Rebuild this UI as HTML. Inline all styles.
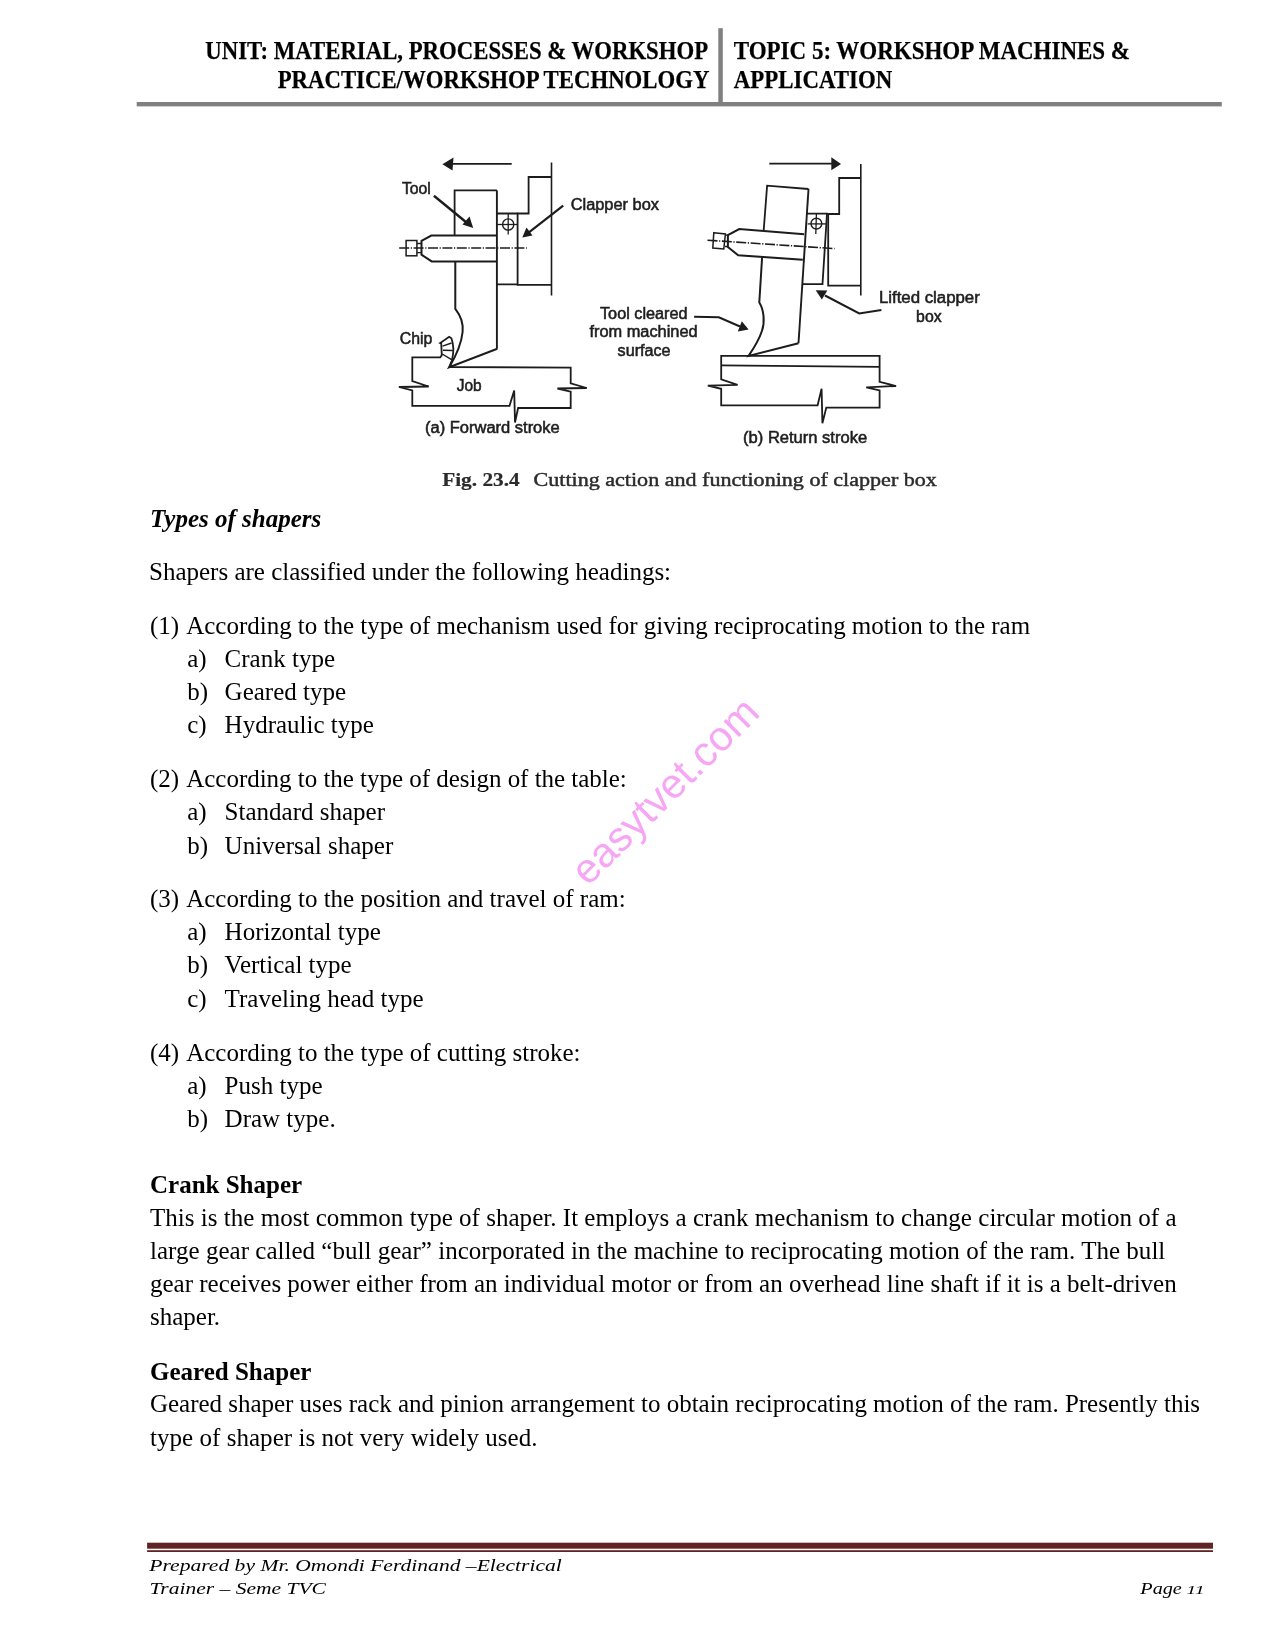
<!DOCTYPE html>
<html><head><meta charset="utf-8"><style>
html,body{margin:0;padding:0;background:#fff;}
body{width:1275px;height:1650px;overflow:hidden;position:relative;}
svg{position:absolute;left:0;top:0;will-change:transform;}
.b{font-family:"Liberation Serif",serif;font-size:25px;fill:#000;}
.h{font-family:"Liberation Serif",serif;font-size:25.5px;font-weight:bold;fill:#000;stroke:#000;stroke-width:0.25px;}
.f{font-family:"Liberation Serif",serif;font-size:16.8px;font-style:italic;fill:#000;}
.d{font-family:"Liberation Sans",sans-serif;font-size:15px;fill:#111;}
</style></head><body>
<svg width="1275" height="1650" viewBox="0 0 1275 1650">
<!-- header -->
<rect x="136.7" y="102" width="1085.1" height="4.4" fill="#808080"/>
<rect x="718.3" y="28.2" width="4.5" height="75" fill="#808080"/>
<text class="h" x="205.3" y="58.5" textLength="502.8" lengthAdjust="spacingAndGlyphs">UNIT: MATERIAL, PROCESSES &amp; WORKSHOP</text>
<text class="h" x="277.7" y="87.7" textLength="431.7" lengthAdjust="spacingAndGlyphs">PRACTICE/WORKSHOP TECHNOLOGY</text>
<text class="h" x="733.8" y="58.8" textLength="396.2" lengthAdjust="spacingAndGlyphs">TOPIC 5: WORKSHOP MACHINES &amp;</text>
<text class="h" x="733.8" y="87.9" textLength="158.4" lengthAdjust="spacingAndGlyphs">APPLICATION</text>

<!-- DIAGRAM -->
<g id="diagram" fill="none" stroke="#1c1c1c" stroke-width="1.8" stroke-linejoin="miter">
<!-- ===== (a) forward stroke ===== -->
<line x1="451" y1="163.8" x2="511.7" y2="163.8"/>
<path d="M442.4 164.3 L453.5 157.5 L452.5 170.5 Z" fill="#1c1c1c" stroke="none"/>
<line x1="551.5" y1="162.5" x2="551.5" y2="295.5" stroke-width="1.6"/>
<path d="M551.5 177 H528.6 V213.5 H517.6 V284.9 H551.5"/>
<path d="M497 213.5 H517.6 M497 284.3 H517.6"/>
<line x1="496.9" y1="190.4" x2="496.9" y2="348.8" stroke-width="1.9"/>
<path d="M454.6 235.4 V190.4 H496.9"/>
<path d="M496.9 235.5 H431.3 L421.5 240.9 V254.7 L431.7 261.4 H496.9" stroke-width="2"/>
<rect x="406.1" y="240.5" width="10.8" height="15.3" stroke-width="1.5"/>
<path d="M417 243.5 H421.5 M417 252.7 H421.5" stroke-width="1.3"/>
<line x1="399.2" y1="248" x2="526.8" y2="248" stroke-width="1.6" stroke-dasharray="10 1.6 1.2 1.6"/>
<circle cx="508.2" cy="224.5" r="5.6" stroke-width="1.4"/>
<line x1="497" y1="224.5" x2="517" y2="224.5" stroke-width="1.3"/>
<line x1="508.2" y1="213.5" x2="508.2" y2="234.5" stroke-width="1.3"/>
<!-- tool -->
<path d="M455.3 261.4 V308.8 C461 316 463.5 324 462.6 332 C461.5 343 456 356 449.2 367.2 L497.3 348.8" stroke-width="2"/>
<!-- job -->
<path d="M449.2 367 L570.7 367.7 V383.3 L586.7 388 L557.4 388.5 L570.7 391.6 V408 H518.1 L515 422.5 L514.2 390.4 L509.5 405.8 H412.3 V390.4 L398.9 387 L428.7 386.5 L412.3 381 V357.4 H440.2 L441.8 355.2 L441.2 343.4 L440.2 343 L449.2 336.8 L451.4 338.3 C453.5 344 454 352 452 360.3 L449.2 367"/>
<!-- chip hatch -->
<path d="M442.5 346.2 L451.6 343 M442.9 350.3 L452.8 350.5 M442.2 354 L452 359.9" stroke-width="1.4"/>
<!-- label arrows -->
<line x1="433.9" y1="195.8" x2="468" y2="223.8" stroke-width="2.4"/>
<path d="M473.2 228 L462.5 224.5 L469.5 216.5 Z" fill="#1c1c1c" stroke="none"/>
<line x1="563.2" y1="205.7" x2="527" y2="233.8" stroke-width="2.2"/>
<path d="M522.3 237.5 L526.5 227.5 L532.5 235.5 Z" fill="#1c1c1c" stroke="none"/>

<!-- ===== (b) return stroke ===== -->
<line x1="769.3" y1="163.6" x2="832" y2="163.6"/>
<path d="M841.1 164 L831.3 157.3 L831.3 170.3 Z" fill="#1c1c1c" stroke="none"/>
<line x1="860.8" y1="164" x2="860.8" y2="295.5" stroke-width="1.6"/>
<path d="M860.8 178 H839.2 V214 H828.2 V285.6 H860.8"/>
<!-- clapper (tilted) -->
<path d="M807 213.6 H827 L822.5 284.1 H802"/>
<!-- long tilted line -->
<line x1="808.5" y1="189" x2="798.5" y2="343.3" stroke-width="1.9"/>
<!-- holder -->
<path d="M763.7 230.2 L767.1 185.7 L808.5 189"/>
<!-- bolt -->
<path d="M804.2 234.2 L739.2 229 L727.9 235.2 V247.1 L738.2 255.3 L802.8 259.8" stroke-width="2"/>
<path d="M713.8 232.7 L725.4 234 L723.8 249 L712.8 248.1 Z" stroke-width="1.5"/>
<path d="M725.4 235.2 H728 M725 246.5 H728" stroke-width="1.3"/>
<line x1="707.5" y1="240.2" x2="834.6" y2="248.6" stroke-width="1.6" stroke-dasharray="10 1.6 1.2 1.6"/>
<circle cx="816.4" cy="223.6" r="5.4" stroke-width="1.4"/>
<line x1="807.7" y1="223.9" x2="826.3" y2="223.9" stroke-width="1.3"/>
<line x1="816.4" y1="214" x2="815.8" y2="234" stroke-width="1.3"/>
<!-- tool -->
<path d="M762.1 257.2 L759.3 302.5 C764 310 765 322 762 330.8 C760 337 754 348 748.6 355.9 L798.5 343.3" stroke-width="2"/>
<!-- table -->
<path d="M721.2 355.9 H879.6 M721.2 365.3 L879.6 366.9"/>
<path d="M721.2 355 V379.4 L737.6 384.9 L707.8 385.7 L721.2 388.8 V405.3 H817.6 L821.6 388.8 L822.4 423.3 L826.3 407.6 H879.6 V390.4 L866.3 387.3 L896.1 386 L879.6 381.8 V355"/>
<!-- label arrows -->
<path d="M694.1 316.8 L718.8 317.3 L740 326.5" stroke-width="2"/>
<path d="M748.6 329.6 L737.8 331.6 L741.8 321.2 Z" fill="#1c1c1c" stroke="none"/>
<path d="M881.4 310.1 L859.2 313.5 L825 295.5" stroke-width="2"/>
<path d="M815.7 290.2 L827.4 290.5 L821.8 299.5 Z" fill="#1c1c1c" stroke="none"/>
</g>
<g font-family="Liberation Sans" font-size="16" fill="#1e1e1e" stroke="#1e1e1e" stroke-width="0.55">
<text x="401.9" y="193.9" textLength="28.9" lengthAdjust="spacingAndGlyphs">Tool</text>
<text x="570.7" y="209.5" textLength="88.3" lengthAdjust="spacingAndGlyphs">Clapper box</text>
<text x="399.7" y="344.1" textLength="32.6" lengthAdjust="spacingAndGlyphs">Chip</text>
<text x="456.8" y="391.2" textLength="24.9" lengthAdjust="spacingAndGlyphs">Job</text>
<text x="425.1" y="432.7" textLength="134.6" lengthAdjust="spacingAndGlyphs">(a) Forward stroke</text>
<text x="600" y="319.1" textLength="87.6" lengthAdjust="spacingAndGlyphs">Tool cleared</text>
<text x="589.4" y="337.4" textLength="108.2" lengthAdjust="spacingAndGlyphs">from machined</text>
<text x="617.6" y="356.2" textLength="53" lengthAdjust="spacingAndGlyphs">surface</text>
<text x="878.9" y="303.2" textLength="100.9" lengthAdjust="spacingAndGlyphs">Lifted clapper</text>
<text x="916.1" y="321.8" textLength="25.5" lengthAdjust="spacingAndGlyphs">box</text>
<text x="743.1" y="443" textLength="124" lengthAdjust="spacingAndGlyphs">(b) Return stroke</text>
</g>

<text x="442.2" y="486.3" font-family="Liberation Serif" font-size="19.3" font-weight="bold" fill="#2b2b2b" stroke="#2b2b2b" stroke-width="0.2" textLength="77.5" lengthAdjust="spacingAndGlyphs">Fig. 23.4</text>
<text x="533.5" y="486.3" font-family="Liberation Serif" font-size="19.3" fill="#2b2b2b" stroke="#2b2b2b" stroke-width="0.45" textLength="403.4" lengthAdjust="spacingAndGlyphs">Cutting action and functioning of clapper box</text>

<!-- body -->
<text class="b" x="150" y="527" font-weight="bold" font-style="italic">Types of shapers</text>
<text class="b" x="149" y="580">Shapers are classified under the following headings:</text>
<text class="b" x="150" y="633.5">(1)</text><text class="b" textLength="843.9" lengthAdjust="spacing" x="186.2" y="633.5">According to the type of mechanism used for giving reciprocating motion to the ram</text>
<text class="b" x="187.2" y="666.8">a)</text><text class="b" x="224.6" y="666.8">Crank type</text>
<text class="b" x="187.2" y="700">b)</text><text class="b" x="224.6" y="700">Geared type</text>
<text class="b" x="187.2" y="733.3">c)</text><text class="b" x="224.6" y="733.3">Hydraulic type</text>
<text class="b" x="150" y="786.9">(2)</text><text class="b" textLength="440.6" lengthAdjust="spacing" x="186.2" y="786.9">According to the type of design of the table:</text>
<text class="b" x="187.2" y="820.4">a)</text><text class="b" x="224.6" y="820.4">Standard shaper</text>
<text class="b" x="187.2" y="853.6">b)</text><text class="b" x="224.6" y="853.6">Universal shaper</text>
<text class="b" x="150" y="906.6">(3)</text><text class="b" x="186.2" y="906.6">According to the position and travel of ram:</text>
<text class="b" x="187.2" y="940">a)</text><text class="b" x="224.6" y="940">Horizontal type</text>
<text class="b" x="187.2" y="973.4">b)</text><text class="b" x="224.6" y="973.4">Vertical type</text>
<text class="b" x="187.2" y="1006.6">c)</text><text class="b" x="224.6" y="1006.6">Traveling head type</text>
<text class="b" x="150" y="1060.6">(4)</text><text class="b" x="186.2" y="1060.6">According to the type of cutting stroke:</text>
<text class="b" x="187.2" y="1093.8">a)</text><text class="b" x="224.6" y="1093.8">Push type</text>
<text class="b" x="187.2" y="1126.7">b)</text><text class="b" x="224.6" y="1126.7">Draw type.</text>
<text class="b" x="150" y="1192.7" font-weight="bold">Crank Shaper</text>
<text class="b" textLength="1026.6" lengthAdjust="spacing" x="150" y="1225.7">This is the most common type of shaper. It employs a crank mechanism to change circular motion of a</text>
<text class="b" textLength="1015.3" lengthAdjust="spacing" x="150" y="1258.7">large gear called “bull gear” incorporated in the machine to reciprocating motion of the ram. The bull</text>
<text class="b" textLength="1026.7" lengthAdjust="spacing" x="150" y="1291.7">gear receives power either from an individual motor or from an overhead line shaft if it is a belt-driven</text>
<text class="b" x="150" y="1324.7">shaper.</text>
<text class="b" x="150" y="1379.7" font-weight="bold">Geared Shaper</text>
<text class="b" textLength="1050.05" lengthAdjust="spacing" x="150" y="1411.7">Geared shaper uses rack and pinion arrangement to obtain reciprocating motion of the ram. Presently this</text>
<text class="b" textLength="387.5" lengthAdjust="spacing" x="150" y="1445.7">type of shaper is not very widely used.</text>

<!-- watermark -->
<text x="0" y="0" font-family="Liberation Sans" font-size="41.5" fill="#f7a6f5" transform="translate(588,887) rotate(-44.8)">easytvet.com</text>

<!-- footer -->
<rect x="147.1" y="1542.7" width="1065.9" height="6" fill="#622423"/>
<rect x="147.1" y="1550.2" width="1065.9" height="1.8" fill="#622423"/>
<text class="f" x="149.3" y="1570.8" textLength="412.5" lengthAdjust="spacingAndGlyphs">Prepared by Mr. Omondi Ferdinand –Electrical</text>
<text class="f" x="149.5" y="1593.9" textLength="176.5" lengthAdjust="spacingAndGlyphs">Trainer – Seme TVC</text>
<text class="f" x="1140.3" y="1593.8" textLength="41.5" lengthAdjust="spacingAndGlyphs">Page</text><text class="f" x="1186.3" y="1593.8" style="font-size:13.5px" textLength="18.5" lengthAdjust="spacingAndGlyphs">11</text>
</svg>
</body></html>
